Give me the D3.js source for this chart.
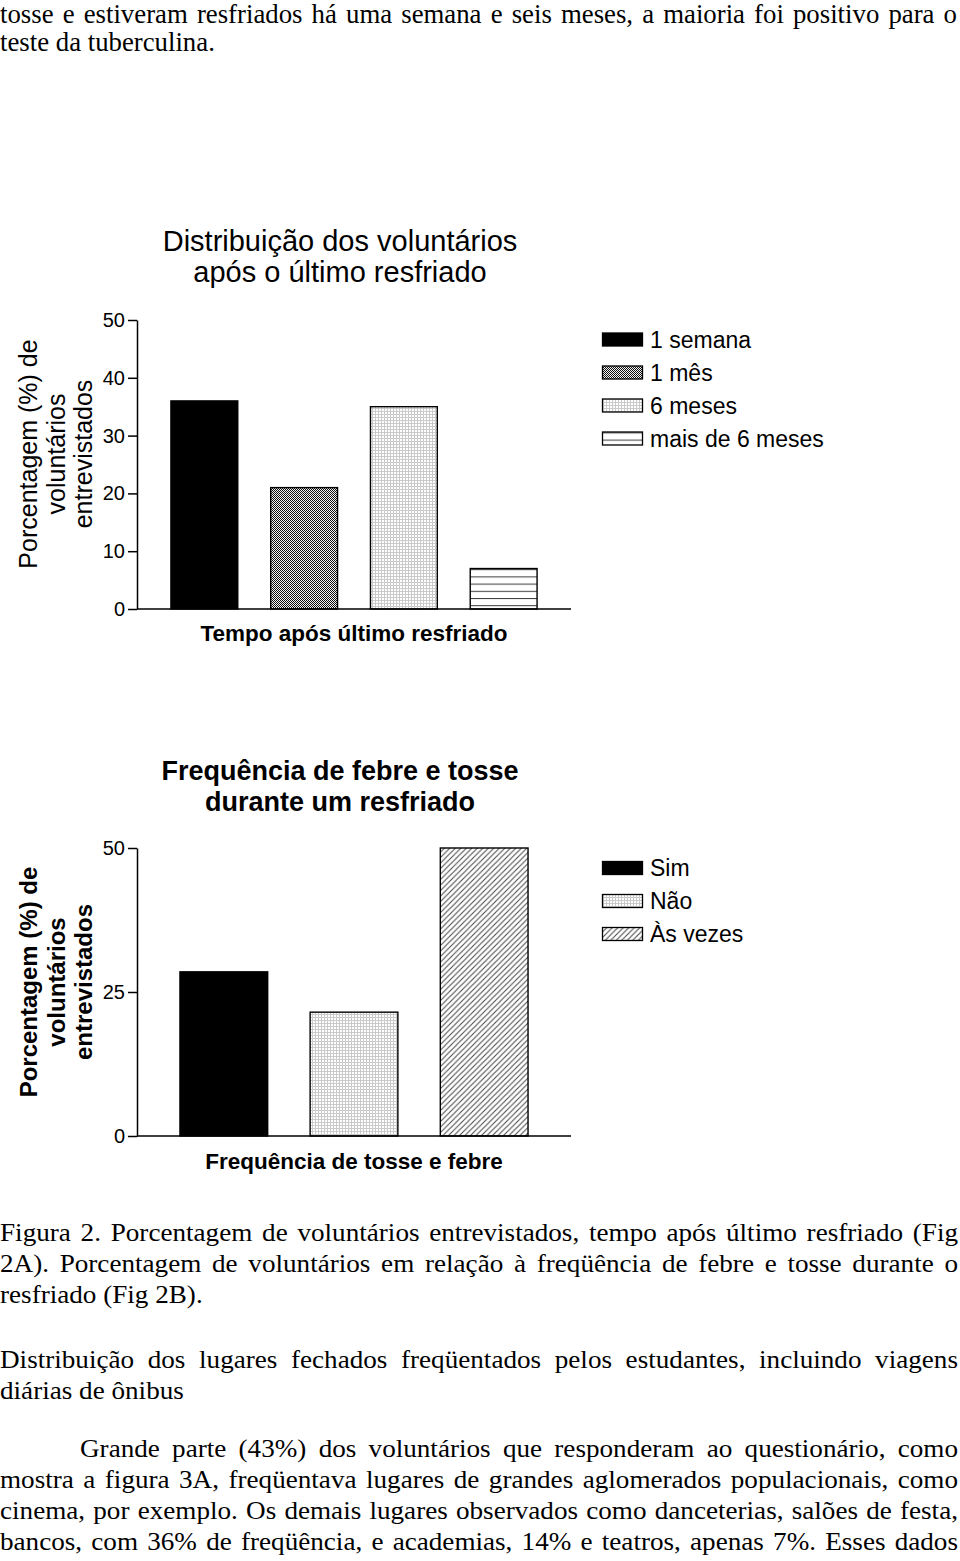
<!DOCTYPE html>
<html><head><meta charset="utf-8">
<script src="https://cdn.jsdelivr.net/npm/d3@7"></script>
<style>body{margin:0;background:#fff}svg{display:block}</style>
</head><body>
<svg id="c" width="960" height="1561"></svg>
<script>
// ---------- data ----------
const chart1Title = ["Distribuição dos voluntários", "após o último resfriado"];
const chart1Categories = ["1 semana", "1 mês", "6 meses", "mais de 6 meses"];
const chart1Values = [36, 21, 35, 7];
const chart1Ticks = [0, 10, 20, 30, 40, 50];
const chart1XLabel = "Tempo após último resfriado";

const chart2Title = ["Frequência de febre e tosse", "durante um resfriado"];
const chart2Categories = ["Sim", "Não", "Às vezes"];
const chart2Values = [28.5, 21.5, 50];
const chart2Ticks = [0, 25, 50];
const chart2XLabel = "Frequência de tosse e febre";

const yLabelLines = ["Porcentagem (%) de", "voluntários", "entrevistados"];

const topLines = ["tosse e estiveram resfriados há uma semana e seis meses, a maioria foi positivo para o",
  "teste da tuberculina."];
const captionLines = ["Figura 2. Porcentagem de voluntários entrevistados, tempo após último resfriado (Fig",
  "2A). Porcentagem de voluntários em relação à freqüência de febre e tosse durante o",
  "resfriado (Fig 2B)."];
const para2Lines = ["Distribuição dos lugares fechados freqüentados pelos estudantes, incluindo viagens",
  "diárias de ônibus"];
const para3Lines = ["Grande parte (43%) dos voluntários que responderam ao questionário, como",
  "mostra a figura 3A, freqüentava lugares de grandes aglomerados populacionais, como",
  "cinema, por exemplo. Os demais lugares observados como danceterias, salões de festa,",
  "bancos, com 36% de freqüência, e academias, 14% e teatros, apenas 7%. Esses dados"];

// ---------- setup ----------
const svg = d3.select("#c");
svg.append("rect").attr("width", 960).attr("height", 1561).attr("fill", "#fff");
const SANS = "Liberation Sans, Arial, Helvetica, sans-serif";
const SERIF = "Liberation Serif, Times New Roman, serif";

const defs = svg.append("defs");
// dark checker (1 mês)
let p = defs.append("pattern").attr("id", "pDark").attr("patternUnits", "userSpaceOnUse").attr("width", 2).attr("height", 2);
p.append("rect").attr("width", 2).attr("height", 2).attr("fill", "#f2f2f2");
p.append("rect").attr("width", 1).attr("height", 1).attr("fill", "#111");
p.append("rect").attr("x", 1).attr("y", 1).attr("width", 1).attr("height", 1).attr("fill", "#111");
// light grid (6 meses / Não)
p = defs.append("pattern").attr("id", "pLight").attr("patternUnits", "userSpaceOnUse").attr("width", 3).attr("height", 3);
p.append("rect").attr("width", 3).attr("height", 3).attr("fill", "#fff");
p.append("rect").attr("width", 3).attr("height", 1).attr("fill", "#cacaca");
p.append("rect").attr("width", 1).attr("height", 3).attr("fill", "#cacaca");
// horizontal lines (mais de 6 meses)
p = defs.append("pattern").attr("id", "pHoriz").attr("patternUnits", "userSpaceOnUse").attr("width", 10).attr("height", 7.2).attr("y", 0.4);
p.append("rect").attr("width", 10).attr("height", 7.2).attr("fill", "#fff");
p.append("rect").attr("width", 10).attr("height", 1).attr("fill", "#3a3a3a");
// diagonal hatch (Às vezes)
p = defs.append("pattern").attr("id", "pHatch").attr("patternUnits", "userSpaceOnUse").attr("width", 5.5).attr("height", 5.5);
p.append("rect").attr("width", 5.5).attr("height", 5.5).attr("fill", "#fff");
p.append("path").attr("d", "M0,5.5L5.5,0M-1,1L1,-1M4.5,6.5L6.5,4.5").attr("stroke", "#444").attr("stroke-width", 1);

const fills1 = ["#000", "url(#pDark)", "url(#pLight)", "url(#pHoriz)"];
const fills2 = ["#000", "url(#pLight)", "url(#pHatch)"];

function drawChart(cfg) {
  const g = svg.append("g");
  const y = d3.scaleLinear().domain([0, 50]).range([cfg.y0, cfg.y1]);
  const x = d3.scaleBand().domain(cfg.categories).range([137, 571])
    .paddingInner(cfg.pin).paddingOuter(cfg.pout);

  // title
  cfg.title.forEach((t, i) => {
    g.append("text").attr("x", 340).attr("y", cfg.titleY + i * 31)
      .attr("text-anchor", "middle").attr("font-family", SANS)
      .attr("font-size", cfg.titleSize).attr("font-weight", cfg.titleWeight)
      .attr("fill", "#000").text(t);
  });

  // bars
  g.selectAll("rect.bar").data(cfg.values).join("rect").attr("class", "bar")
    .attr("x", (d, i) => x(cfg.categories[i]))
    .attr("width", x.bandwidth())
    .attr("y", d => y(d))
    .attr("height", d => y(0) - y(d))
    .attr("fill", (d, i) => cfg.fills[i])
    .attr("stroke", "#000").attr("stroke-width", 1.4);

  // y axis
  const ax = g.append("g").attr("transform", "translate(137,0)")
    .call(d3.axisLeft(y).tickValues(cfg.ticks).tickSize(9).tickPadding(3).tickSizeOuter(0));
  ax.select(".domain").attr("stroke", "#000").attr("stroke-width", 1.5);
  ax.selectAll(".tick line").attr("stroke", "#000").attr("stroke-width", 1.5);
  ax.selectAll(".tick text").attr("font-family", SANS).attr("font-size", 20).attr("fill", "#000");

  // x axis baseline
  g.append("line").attr("x1", x.range()[0]).attr("x2", x.range()[1])
    .attr("y1", y(0)).attr("y2", y(0)).attr("stroke", "#000").attr("stroke-width", 1.5);

  // x label
  g.append("text").attr("x", 354).attr("y", cfg.xLabelY).attr("text-anchor", "middle")
    .attr("font-family", SANS).attr("font-size", 22.5).attr("font-weight", "bold")
    .attr("fill", "#000").text(cfg.xLabel);

  // y label
  const yl = g.append("g").attr("transform", `translate(0,${cfg.yLabelCenter}) rotate(-90)`);
  yLabelLines.forEach((t, i) => {
    yl.append("text").attr("x", 0).attr("y", 37 + i * 27.5).attr("text-anchor", "middle")
      .attr("font-family", SANS).attr("font-size", cfg.yLabelSize).attr("font-weight", cfg.yLabelWeight)
      .attr("fill", "#000").text(t);
  });

  // legend
  cfg.categories.forEach((c, i) => {
    const cy = cfg.legendY + i * 33;
    g.append("rect").attr("x", 602.5).attr("y", cy - 6.5).attr("width", 40).attr("height", 13)
      .attr("fill", cfg.fills[i]).attr("stroke", "#000").attr("stroke-width", 1.3);
    g.append("text").attr("x", 650).attr("y", cy + 8).attr("font-family", SANS)
      .attr("font-size", 23).attr("fill", "#000").text(c);
  });
}

drawChart({
  categories: chart1Categories, values: chart1Values, ticks: chart1Ticks, fills: fills1,
  y0: 609, y1: 320, pin: 0.33, pout: 0.34,
  title: chart1Title, titleY: 251, titleSize: 29, titleWeight: "normal",
  xLabel: chart1XLabel, xLabelY: 641,
  yLabelCenter: 454, yLabelSize: 25, yLabelWeight: "normal",
  legendY: 339.5
});
drawChart({
  categories: chart2Categories, values: chart2Values, ticks: chart2Ticks, fills: fills2,
  y0: 1136, y1: 848, pin: 0.326, pout: 0.33,
  title: chart2Title, titleY: 780, titleSize: 27, titleWeight: "bold",
  xLabel: chart2XLabel, xLabelY: 1169,
  yLabelCenter: 982, yLabelSize: 24, yLabelWeight: "bold",
  legendY: 868
});

// ---------- body text ----------
function measure(str, size) {
  const t = svg.append("text").attr("font-family", SERIF).attr("font-size", size).text(str);
  const w = t.node().getComputedTextLength();
  t.remove();
  return w;
}
function textLine(x, y, str, size, sx, right) {
  const g = svg.append("g").attr("transform", `translate(${x},${y}) scale(${sx},1)`);
  const t = g.append("text").attr("font-family", SERIF).attr("font-size", size).attr("fill", "#000").text(str);
  if (right) {
    const w = t.node().getComputedTextLength();
    const n = (str.match(/ /g) || []).length;
    t.style("word-spacing", (((right - x) / sx - w) / n) + "px");
  }
}
const topSize = 27;
const topSx = 215 / measure(topLines[1], topSize);
textLine(0, 23, topLines[0], topSize, topSx, 957);
textLine(0, 51, topLines[1], topSize, topSx, null);

const bodySize = 25;
const bodySx = 184 / measure(para2Lines[1], bodySize);
textLine(0, 1241, captionLines[0], bodySize, bodySx, 958);
textLine(0, 1272, captionLines[1], bodySize, bodySx, 958);
textLine(0, 1303, captionLines[2], bodySize, bodySx, null);
textLine(0, 1368, para2Lines[0], bodySize, bodySx, 958);
textLine(0, 1399, para2Lines[1], bodySize, bodySx, null);
para3Lines.forEach((l, i) => textLine(i === 0 ? 80 : 0, 1457 + i * 31, l, bodySize, bodySx, 958));
</script>
</body></html>
